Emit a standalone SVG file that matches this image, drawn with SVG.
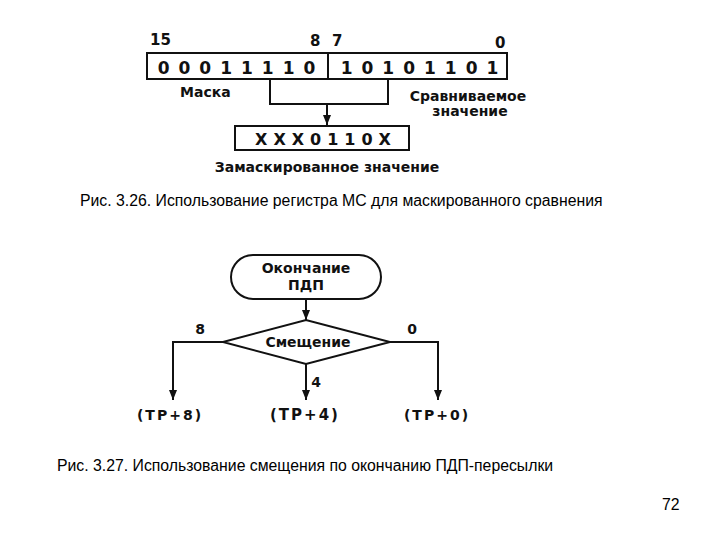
<svg xmlns="http://www.w3.org/2000/svg" width="720" height="540" viewBox="0 0 720 540">
<style>
.b{font-family:"DejaVu Sans","Liberation Sans",sans-serif;font-weight:bold;fill:#111}
.c{font-family:"Liberation Sans",Arial,sans-serif;font-size:15.8px;fill:#000}
.s{fill:none;stroke:#111;stroke-width:2}
</style>
<defs><marker id="a" markerWidth="10" markerHeight="8" refX="10" refY="4" orient="auto" markerUnits="userSpaceOnUse"><path d="M0,0 L10,4 L0,8 Z" fill="#111"/></marker></defs>
<rect width="720" height="540" fill="#fff"/>
<g id="register">
<rect class="s" x="147" y="53" width="360" height="26" stroke-width="3"/>
<line class="s" x1="328" y1="53" x2="328" y2="79"/>
<text class="b" x="241" y="74" font-size="17" text-anchor="middle" letter-spacing="9">00011110</text>
<text class="b" x="424" y="74" font-size="17" text-anchor="middle" letter-spacing="9">10101101</text>
<text class="b" x="150" y="45" font-size="15">15</text>
<text class="b" x="310" y="46" font-size="15">8</text>
<text class="b" x="332" y="46" font-size="15">7</text>
<text class="b" x="495" y="48" font-size="15">0</text>
<text class="b" x="180" y="97" font-size="14">Маска</text>
<text class="b" x="468" y="101" font-size="14" text-anchor="middle">Сравниваемое</text>
<text class="b" x="470" y="116" font-size="14" text-anchor="middle">значение</text>
</g>
<g id="result">
<rect class="s" x="235" y="126" width="174" height="24" stroke-width="3"/>
<text class="b" x="326" y="145" font-size="16" text-anchor="middle" letter-spacing="6">XXX0110X</text>
<text class="b" x="327" y="172" font-size="14" text-anchor="middle">Замаскированное значение</text>
</g>
<g id="connectors1">
<polyline class="s" points="270,79 270,104 388,104 388,79"/>
<line class="s" x1="327" y1="104" x2="327" y2="125" marker-end="url(#a)"/>
</g>
<text class="c" x="80" y="206">Рис. 3.26. Использование регистра МС для маскированного сравнения</text>
<g id="start">
<rect class="s" x="231" y="255" width="150" height="44" rx="22"/>
<text class="b" x="306" y="273" font-size="14" text-anchor="middle">Окончание</text>
<text class="b" x="306" y="290" font-size="14" text-anchor="middle">ПДП</text>
</g>
<g id="decision">
<polygon class="s" points="223,342 306,320 390,342 306,364"/>
<text class="b" x="308" y="347" font-size="14" text-anchor="middle">Смещение</text>
</g>
<g id="connectors2">
<line class="s" x1="306" y1="299" x2="306" y2="320" marker-end="url(#a)"/>
<polyline class="s" points="223,342 173,342 173,400" marker-end="url(#a)"/>
<polyline class="s" points="390,342 438,342 438,400" marker-end="url(#a)"/>
<line class="s" x1="306" y1="364" x2="306" y2="400" marker-end="url(#a)"/>
</g>
<text class="b" x="200" y="334" font-size="14" text-anchor="middle">8</text>
<text class="b" x="412" y="334" font-size="14" text-anchor="middle">0</text>
<text class="b" x="316" y="387" font-size="14" text-anchor="middle">4</text>
<g id="t8"><text class="b" x="170" y="420" font-size="14" text-anchor="middle" letter-spacing="2">(TP+8)</text></g>
<g id="t4"><text class="b" x="305" y="420" font-size="15" text-anchor="middle" font-weight="normal" letter-spacing="2">(TP+4)</text></g>
<g id="t0"><text class="b" x="437" y="420" font-size="14" text-anchor="middle" letter-spacing="2">(TP+0)</text></g>
<text class="c" x="57" y="471">Рис. 3.27. Использование смещения по окончанию ПДП-пересылки</text>
<text class="c" x="662" y="510" font-size="14">72</text>
</svg>
